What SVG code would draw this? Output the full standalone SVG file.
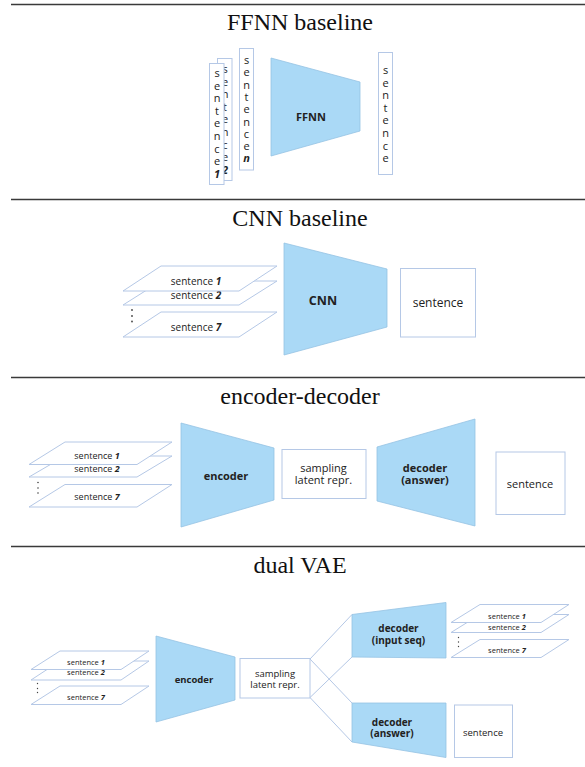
<svg xmlns="http://www.w3.org/2000/svg" width="585" height="767" viewBox="0 0 585 767">
<style>
.sep{stroke:#3a3a3a;stroke-width:1.3;fill:none}
.title{font-family:"Liberation Serif",serif;font-size:24px;fill:#111;text-anchor:middle}
.trap{fill:#aad9f6;stroke:#96c3e3;stroke-width:0.8}
.box{fill:#fff;stroke:#b5c8e6;stroke-width:1}
.pl{fill:#fff;stroke:#b5c8e6;stroke-width:1}
.lbl{font-family:"Open Sans","DejaVu Sans",sans-serif;fill:#222;text-anchor:middle}
.b{font-weight:bold}
.n{font-weight:bold;font-style:italic}
.vt{font-family:"Open Sans","DejaVu Sans",sans-serif;font-size:11px;fill:#222;text-anchor:middle}
.dot{fill:#444}
.con{stroke:#b5c8e6;stroke-width:1;fill:none}
</style>

<g id="separators">
<line class="sep" x1="11" y1="4.5" x2="585" y2="4.5"/>
<line class="sep" x1="11" y1="199.5" x2="585" y2="199.5"/>
<line class="sep" x1="11" y1="377.5" x2="585" y2="377.5"/>
<line class="sep" x1="11" y1="546.5" x2="585" y2="546.5"/>
</g>

<g id="titles">
<text class="title" x="300" y="30">FFNN baseline</text>
<text class="title" x="300" y="226">CNN baseline</text>
<text class="title" x="300" y="404">encoder-decoder</text>
<text class="title" x="300" y="573">dual VAE</text>
</g>

<!-- FFNN baseline -->
<g id="ffnn-sentence-2">
<rect class="box" x="217.5" y="58.5" width="14.5" height="122"/>
<text class="vt"><tspan x="225" y="73">s</tspan><tspan x="225" dy="12.6">e</tspan><tspan x="225" dy="12.6">n</tspan><tspan x="225" dy="12.6">t</tspan><tspan x="225" dy="12.6">e</tspan><tspan x="225" dy="12.6">n</tspan><tspan x="225" dy="12.6">c</tspan><tspan x="225" dy="12.6">e</tspan><tspan x="225" dy="12.6" class="n">2</tspan></text>
</g>
<g id="ffnn-sentence-1">
<rect class="box" x="209.5" y="63.5" width="14.5" height="121"/>
<text class="vt"><tspan x="217" y="77">s</tspan><tspan x="217" dy="12.6">e</tspan><tspan x="217" dy="12.6">n</tspan><tspan x="217" dy="12.6">t</tspan><tspan x="217" dy="12.6">e</tspan><tspan x="217" dy="12.6">n</tspan><tspan x="217" dy="12.6">c</tspan><tspan x="217" dy="12.6">e</tspan><tspan x="217" dy="12.6" class="n">1</tspan></text>
</g>
<g id="ffnn-sentence-n">
<rect class="box" x="239.5" y="48.5" width="14" height="121.5"/>
<text class="vt"><tspan x="246.5" y="64">s</tspan><tspan x="246.5" dy="12.3">e</tspan><tspan x="246.5" dy="12.3">n</tspan><tspan x="246.5" dy="12.3">t</tspan><tspan x="246.5" dy="12.3">e</tspan><tspan x="246.5" dy="12.3">n</tspan><tspan x="246.5" dy="12.3">c</tspan><tspan x="246.5" dy="12.3">e</tspan><tspan x="246.5" dy="12.3" class="n">n</tspan></text>
</g>
<g id="ffnn">
<polygon class="trap" points="271,58 360,82 360,131 271,156"/>
<text class="lbl b" x="311" y="121" font-size="11">FFNN</text>
</g>
<g id="ffnn-output">
<rect class="box" x="378.5" y="52.5" width="14" height="122"/>
<text class="vt"><tspan x="385.5" y="74">s</tspan><tspan x="385.5" dy="12.6">e</tspan><tspan x="385.5" dy="12.6">n</tspan><tspan x="385.5" dy="12.6">t</tspan><tspan x="385.5" dy="12.6">e</tspan><tspan x="385.5" dy="12.6">n</tspan><tspan x="385.5" dy="12.6">c</tspan><tspan x="385.5" dy="12.6">e</tspan></text>
</g>

<!-- CNN baseline -->
<g id="cnn-input">
<polygon class="pl" points="161,312 277,312 239,337 123,337"/>
<text class="lbl" x="196" y="331" font-size="10">sentence <tspan class="n">7</tspan></text>
<polygon class="pl" points="161,281 277,281 239,305 123,305"/>
<text class="lbl" x="196" y="299" font-size="10">sentence <tspan class="n">2</tspan></text>
<polygon class="pl" points="161,266 277,266 239,291 123,291"/>
<text class="lbl" x="196" y="285" font-size="10">sentence <tspan class="n">1</tspan></text>
<circle class="dot" cx="132" cy="310" r="0.9"/>
<circle class="dot" cx="132" cy="316" r="0.9"/>
<circle class="dot" cx="132" cy="321.5" r="0.9"/>
</g>
<g id="cnn">
<polygon class="trap" points="284,243 387,269 387,327 284,355"/>
<text class="lbl b" x="323" y="304.5" font-size="12.5">CNN</text>
</g>
<g id="cnn-output">
<rect class="box" x="400.5" y="268.5" width="75" height="68.5"/>
<text class="lbl" x="438" y="307" font-size="12">sentence</text>
</g>

<!-- encoder-decoder -->
<g id="ed-input">
<polygon class="pl" points="65,484.5 172,484.5 137,507 29,507"/>
<text class="lbl" x="97" y="500" font-size="9">sentence <tspan class="n">7</tspan></text>
<polygon class="pl" points="65,456 172,456 137,477 29,477"/>
<text class="lbl" x="97" y="471.5" font-size="9">sentence <tspan class="n">2</tspan></text>
<polygon class="pl" points="65,442 172,442 137,464.5 29,464.5"/>
<text class="lbl" x="97" y="459" font-size="9">sentence <tspan class="n">1</tspan></text>
<circle class="dot" cx="38" cy="482.5" r="0.8"/>
<circle class="dot" cx="38" cy="488" r="0.8"/>
<circle class="dot" cx="38" cy="493" r="0.8"/>
</g>
<g id="ed-encoder">
<polygon class="trap" points="181,423 274,448 274,500 181,527"/>
<text class="lbl b" x="226" y="479.5" font-size="11">encoder</text>
</g>
<g id="ed-sampling">
<rect class="box" x="282" y="449.5" width="84" height="49"/>
<text class="lbl" x="323.5" y="472" font-size="11">sampling</text>
<text class="lbl" x="323.5" y="484" font-size="11">latent repr.</text>
</g>
<g id="ed-decoder">
<polygon class="trap" points="377,447 475,419 475,526 377,501"/>
<text class="lbl b" x="425" y="471.5" font-size="11">decoder</text>
<text class="lbl b" x="425" y="484" font-size="11">(answer)</text>
</g>
<g id="ed-output">
<rect class="box" x="496" y="452" width="69" height="62.5"/>
<text class="lbl" x="530" y="488" font-size="11">sentence</text>
</g>

<!-- dual VAE -->
<g id="connectors">
<line class="con" x1="310" y1="659" x2="352" y2="614.5"/>
<line class="con" x1="310" y1="659" x2="352" y2="703"/>
<line class="con" x1="310" y1="697.5" x2="352" y2="657"/>
<line class="con" x1="310" y1="697.5" x2="352" y2="742"/>
</g>
<g id="vae-input">
<polygon class="pl" points="60,686 149,686 121,704.5 31,704.5"/>
<text class="lbl" x="86" y="700" font-size="7.5">sentence <tspan class="n">7</tspan></text>
<polygon class="pl" points="60,661 149,661 121,680 31,680"/>
<text class="lbl" x="86" y="675" font-size="7.5">sentence <tspan class="n">2</tspan></text>
<polygon class="pl" points="60,651 149,651 121,669.5 31,669.5"/>
<text class="lbl" x="86" y="664.5" font-size="7.5">sentence <tspan class="n">1</tspan></text>
<circle class="dot" cx="37.5" cy="683.5" r="0.7"/>
<circle class="dot" cx="37.5" cy="688.5" r="0.7"/>
<circle class="dot" cx="37.5" cy="692.5" r="0.7"/>
</g>
<g id="vae-encoder">
<polygon class="trap" points="156,636 235,657 235,700 156,722"/>
<text class="lbl b" x="194" y="682.5" font-size="9.5">encoder</text>
</g>
<g id="vae-sampling">
<rect class="box" x="240" y="658.5" width="70" height="39.5"/>
<text class="lbl" x="275" y="676.5" font-size="9.5">sampling</text>
<text class="lbl" x="275" y="687.5" font-size="9.5">latent repr.</text>
</g>
<g id="vae-decoder-input">
<polygon class="trap" points="352,614.5 446,602.5 446,658 352,657"/>
<text class="lbl b" x="398.5" y="632" font-size="10">decoder</text>
<text class="lbl b" x="398.5" y="644" font-size="10">(input seq)</text>
</g>
<g id="vae-decoder-answer">
<polygon class="trap" points="352,703 446,703 446,757.5 352,742"/>
<text class="lbl b" x="392" y="726" font-size="10">decoder</text>
<text class="lbl b" x="392" y="737" font-size="10">(answer)</text>
</g>
<g id="vae-output-seq">
<polygon class="pl" points="480,639.5 569,639.5 541,657.5 451,657.5"/>
<text class="lbl" x="507" y="653" font-size="7.5">sentence <tspan class="n">7</tspan></text>
<polygon class="pl" points="480,614.5 569,614.5 541,632.5 451,632.5"/>
<text class="lbl" x="507" y="629.5" font-size="7.5">sentence <tspan class="n">2</tspan></text>
<polygon class="pl" points="480,604.5 569,604.5 541,622.5 451,622.5"/>
<text class="lbl" x="507" y="618.5" font-size="7.5">sentence <tspan class="n">1</tspan></text>
<circle class="dot" cx="458.5" cy="637.5" r="0.7"/>
<circle class="dot" cx="458.5" cy="642" r="0.7"/>
<circle class="dot" cx="458.5" cy="646.5" r="0.7"/>
</g>
<g id="vae-output-answer">
<rect class="box" x="454.5" y="705" width="58" height="52.5"/>
<text class="lbl" x="483" y="735.5" font-size="9.5">sentence</text>
</g>
</svg>
